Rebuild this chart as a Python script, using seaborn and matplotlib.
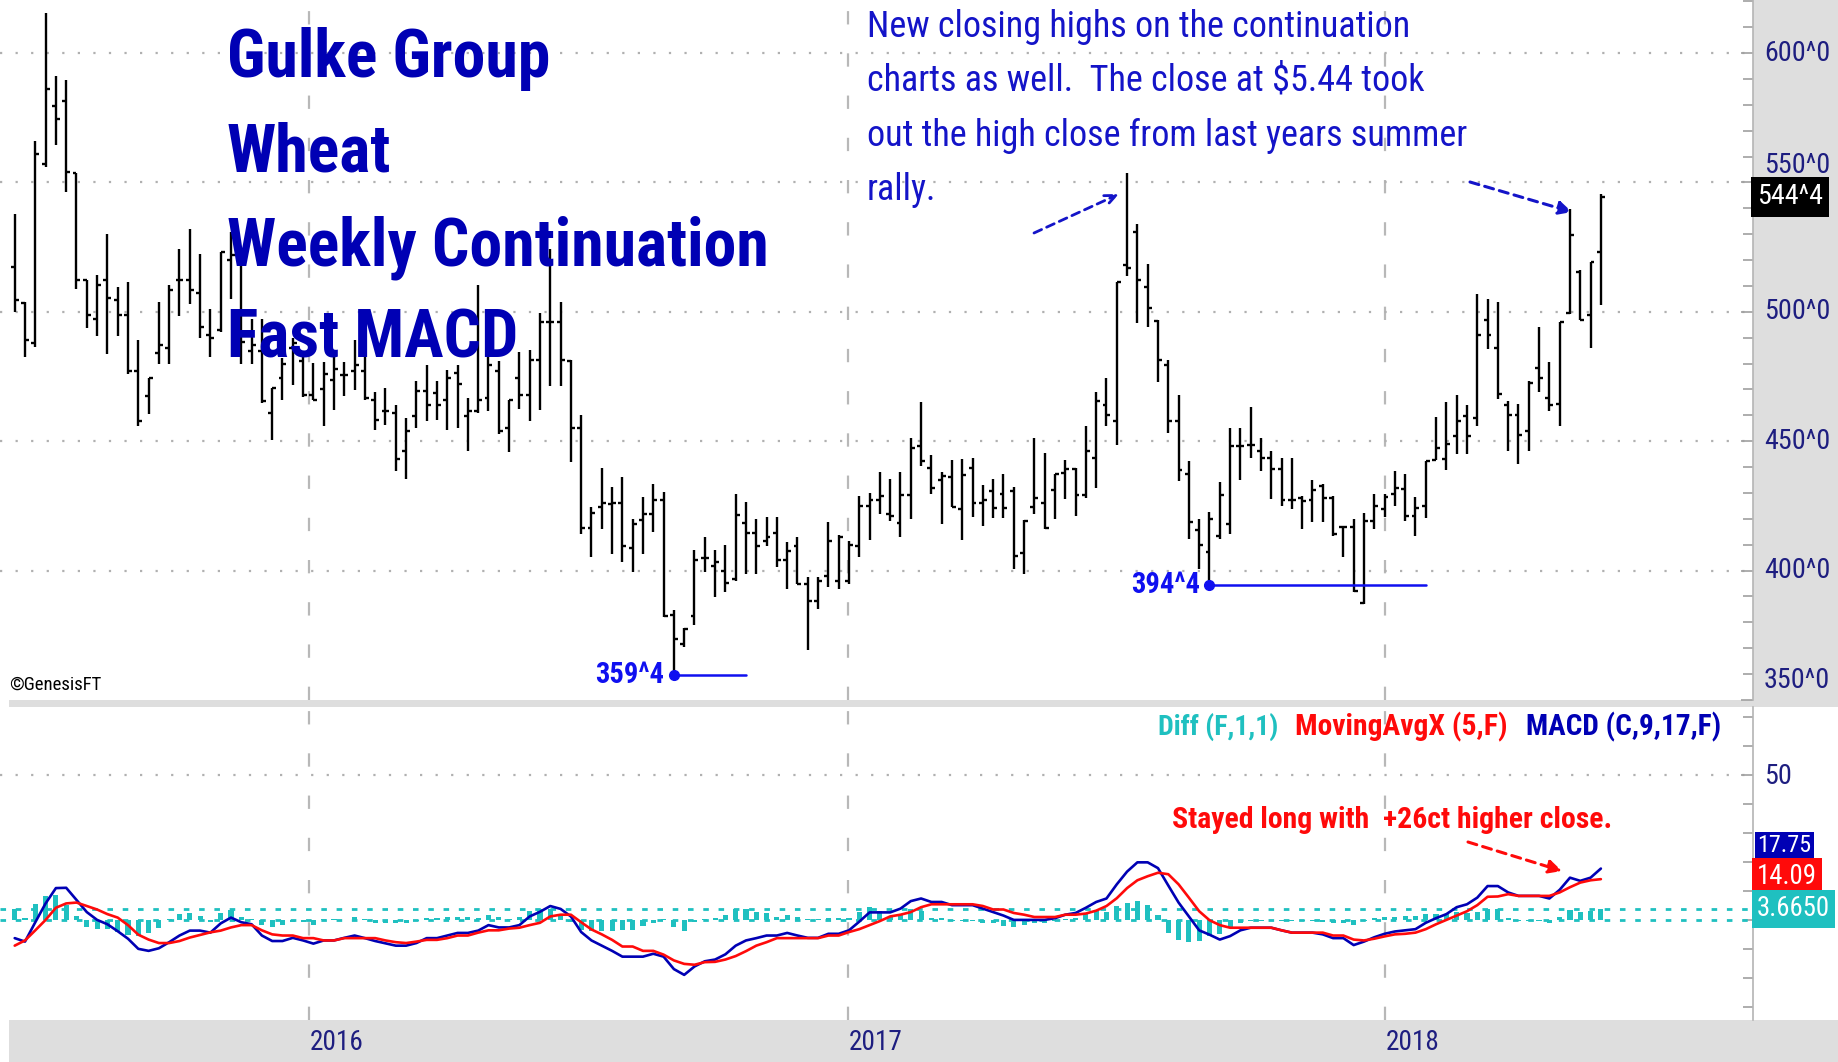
import numpy as np
import pandas as pd
import matplotlib
matplotlib.use("Agg")
import matplotlib.pyplot as plt
import seaborn as sns
from matplotlib import font_manager as fm
from matplotlib.patches import Rectangle

# ---------------- data (weekly wheat continuation, cents/bu) ----------------
opens = [517.3, 503.5, 487.8, 557.0, 579.5, 581.4, 553.6, 512.2, 497.4, 512.2,
         504.5, 498.7, 477.2, 467.6, 484.0, 485.9, 512.2, 512.2, 507.4, 491.0,
         492.9, 519.9, 519.0, 485.0, 485.0, 460.9, 474.4, 485.9, 481.0, 468.0,
         470.0, 473.7, 475.7, 477.0, 477.0, 466.0, 461.5, 460.9, 446.2, 459.6,
         469.5, 468.6, 466.0, 476.3, 459.6, 461.5, 466.7, 477.0, 455.1, 474.4,
         468.0, 481.4, 496.2, 496.0, 481.0, 455.1, 416.4, 424.4, 425.6, 426.3,
         408.7, 419.5, 421.8, 427.2, 383.0, 371.8, 382.3, 404.9, 401.9, 400.0,
         396.8, 418.3, 414.4, 411.5, 414.5, 404.1, 409.6, 394.9, 388.2, 397.8,
         396.0, 396.0, 409.6, 425.0, 427.2, 421.8, 418.3, 429.1, 448.1, 439.5,
         434.9, 436.0, 424.0, 439.5, 426.3, 430.8, 429.7, 430.8, 406.7, 424.4,
         426.3, 431.0, 437.8, 439.1, 429.2, 443.6, 464.1, 457.9, 518.0, 530.7,
         509.6, 496.4, 479.5, 458.0, 437.2, 415.6, 407.0, 413.4, 418.2, 448.1,
         448.7, 446.1, 443.6, 439.3, 427.2, 428.2, 427.2, 432.6, 428.2, 416.7,
         416.7, 387.4, 419.2, 423.7, 429.5, 431.4, 421.1, 425.0, 442.9, 443.3,
         451.9, 459.6, 459.0, 496.8, 486.1, 464.1, 460.2, 453.8, 478.2, 466.6,
         464.3, 499.7, 515.4, 498.7, 523.0]
highs = [537.8, 503.8, 566.0, 615.6, 591.3, 589.4, 553.6, 512.2, 514.4, 530.0,
         509.6, 511.5, 489.0, 474.6, 503.8, 510.5, 524.4, 532.0, 522.2, 501.0,
         523.0, 530.8, 522.0, 497.4, 497.4, 470.5, 482.0, 489.7, 485.0, 480.1,
         480.8, 482.7, 480.8, 489.1, 482.7, 469.2, 470.5, 464.1, 459.0, 473.1,
         479.5, 473.1, 477.6, 479.5, 466.7, 510.5, 483.3, 481.0, 466.0, 484.6,
         485.3, 499.4, 524.4, 503.9, 481.4, 460.0, 424.4, 439.7, 432.3, 436.1,
         419.9, 428.5, 433.3, 430.4, 384.6, 377.9, 408.0, 412.8, 408.0, 410.0,
         429.5, 426.5, 419.9, 420.8, 420.8, 410.9, 412.8, 397.7, 397.4, 418.6,
         413.8, 411.5, 428.8, 430.1, 438.1, 435.3, 438.1, 451.3, 465.1, 444.5,
         438.1, 442.6, 443.0, 443.6, 433.0, 435.3, 437.2, 432.3, 419.5, 451.3,
         445.5, 437.2, 442.6, 439.5, 456.0, 469.0, 474.6, 511.5, 553.6, 534.0,
         518.6, 496.8, 481.4, 467.9, 442.5, 419.9, 422.7, 434.2, 455.1, 455.1,
         463.1, 451.3, 446.4, 443.6, 443.6, 428.8, 435.2, 433.3, 428.8, 417.3,
         419.9, 422.4, 429.5, 429.5, 438.4, 437.2, 428.4, 442.5, 459.2, 465.1,
         468.0, 464.1, 507.0, 504.9, 503.8, 465.6, 464.3, 473.1, 494.2, 480.7,
         496.1, 539.7, 516.0, 519.2, 545.5]
lows = [500.0, 482.7, 486.5, 555.8, 564.5, 546.2, 509.0, 493.6, 490.6, 483.8,
        490.6, 475.9, 455.8, 460.5, 480.0, 480.0, 498.5, 503.2, 489.7, 482.7,
        492.3, 505.1, 480.0, 480.0, 464.7, 450.6, 466.0, 471.8, 467.0, 466.0,
        455.8, 462.2, 467.3, 469.9, 466.0, 454.5, 456.4, 438.5, 435.3, 455.1,
        457.7, 458.3, 454.5, 455.1, 446.2, 460.9, 461.5, 452.8, 445.9, 462.6,
        458.0, 462.2, 471.2, 471.2, 442.0, 414.1, 405.4, 416.0, 406.4, 403.5,
        399.6, 406.4, 415.0, 382.0, 359.5, 370.5, 379.1, 399.3, 389.7, 391.7,
        395.9, 398.7, 398.7, 409.6, 401.5, 393.0, 394.9, 369.5, 385.0, 393.6,
        393.0, 394.9, 405.1, 411.9, 421.8, 419.0, 413.0, 419.9, 440.4, 429.5,
        418.0, 424.4, 412.0, 420.8, 417.3, 420.3, 420.3, 400.6, 398.7, 422.0,
        416.0, 419.9, 427.8, 421.1, 428.0, 432.0, 455.7, 448.7, 514.0, 495.5,
        494.2, 473.0, 453.2, 434.6, 412.2, 400.6, 394.5, 412.2, 414.1, 435.2,
        443.6, 438.4, 427.5, 425.0, 423.7, 416.0, 418.6, 418.6, 413.5, 405.1,
        391.8, 387.2, 416.0, 420.8, 425.0, 419.2, 413.4, 420.3, 442.9, 438.7,
        445.1, 445.1, 455.7, 485.6, 466.4, 446.1, 441.3, 446.1, 469.2, 461.5,
        455.7, 499.3, 496.8, 485.9, 502.5]
closes = [504.5, 489.0, 560.9, 586.2, 574.7, 554.1, 512.2, 498.6, 510.5, 505.4,
          498.7, 477.2, 458.0, 474.6, 487.2, 508.3, 512.2, 508.3, 494.2, 489.7,
          523.0, 522.0, 488.5, 487.0, 465.4, 470.5, 480.0, 488.0, 468.0, 466.0,
          476.0, 478.0, 475.7, 479.5, 466.7, 458.3, 461.5, 443.0, 453.9, 469.5,
          464.1, 464.1, 474.4, 472.0, 461.5, 466.0, 479.5, 453.9, 466.0, 468.0,
          481.4, 496.2, 496.0, 481.4, 455.1, 416.4, 422.4, 426.3, 426.3, 409.6,
          417.9, 422.0, 427.2, 382.3, 373.7, 377.6, 404.1, 404.9, 403.2, 395.1,
          421.5, 414.4, 409.6, 413.0, 404.1, 407.7, 394.9, 388.2, 396.0, 411.5,
          413.0, 410.0, 425.0, 427.2, 428.9, 421.0, 429.1, 447.2, 442.3, 432.0,
          436.5, 424.4, 437.0, 426.3, 427.2, 424.1, 424.1, 405.8, 419.0, 428.2,
          416.4, 437.2, 439.1, 429.2, 446.4, 465.4, 460.2, 511.5, 517.0, 512.4,
          501.5, 481.4, 458.0, 438.7, 418.6, 409.9, 420.0, 429.1, 448.1, 448.1,
          448.7, 443.6, 439.3, 427.2, 427.2, 426.9, 431.0, 428.2, 414.1, 416.7,
          392.3, 419.2, 425.0, 428.4, 432.0, 421.1, 424.3, 442.3, 447.4, 449.0,
          457.7, 451.9, 491.0, 491.0, 468.2, 460.2, 452.3, 472.4, 474.3, 464.1,
          495.9, 529.7, 496.8, 519.2, 544.5]

macd_line = [-6.3, -7.5, -0.8, 5.7, 11.0, 11.1, 6.9, 2.7, 0.0, -1.5,
             -3.9, -6.5, -10.0, -10.7, -9.8, -7.7, -5.4, -3.7, -3.7, -4.4,
             -1.2, 0.8, -0.8, -1.5, -5.4, -7.3, -7.3, -6.2, -7.1, -8.2,
             -7.1, -7.1, -6.2, -5.4, -6.3, -7.3, -8.1, -8.9, -8.9, -8.0,
             -6.3, -6.3, -5.4, -4.5, -4.5, -3.7, -1.8, -2.6, -2.6, -1.8,
             1.2, 2.8, 4.8, 3.8, 1.2, -4.2, -7.1, -8.9, -10.7, -12.7,
             -12.7, -12.7, -11.7, -12.7, -17.0, -19.0, -16.1, -14.3, -13.7, -11.9,
             -8.9, -7.1, -6.3, -5.4, -5.4, -4.5, -5.4, -6.2, -6.2, -4.8,
             -4.8, -3.6, -0.6, 2.6, 2.6, 2.6, 3.9, 6.5, 7.4, 6.2,
             6.2, 5.1, 5.1, 5.1, 3.9, 2.7, 1.5, 0.0, 0.0, 0.0,
             0.0, 0.6, 1.8, 2.4, 4.2, 6.2, 7.4, 12.3, 16.7, 19.9,
             19.9, 17.9, 11.9, 6.0, 1.2, -3.6, -5.1, -6.8, -5.6, -3.6,
             -2.7, -2.7, -2.7, -3.6, -4.4, -4.4, -4.4, -5.0, -6.3, -6.3,
             -8.7, -7.5, -6.0, -4.8, -4.0, -3.6, -3.2, -1.0, 0.6, 2.0,
             4.4, 5.4, 7.7, 11.7, 11.7, 9.5, 8.3, 8.3, 8.3, 7.4,
             10.4, 14.6, 13.5, 14.6, 17.75]
ma_line = [-8.9, -7.1, -3.6, 0.0, 4.2, 5.7, 6.0, 4.8, 3.6, 2.0,
           0.8, -1.8, -5.1, -6.8, -8.0, -8.0, -7.3, -6.1, -5.2, -4.3,
           -3.7, -2.6, -1.8, -1.8, -3.6, -5.0, -5.4, -5.4, -6.3, -6.3,
           -7.1, -7.1, -6.3, -6.3, -6.3, -6.3, -7.1, -7.7, -8.0, -7.5,
           -6.9, -6.9, -6.3, -5.4, -5.4, -4.4, -3.6, -3.6, -3.0, -2.7,
           -1.8, -1.0, 1.2, 1.8, 1.8, -0.8, -3.3, -5.0, -6.9, -9.2,
           -9.2, -10.7, -10.7, -12.0, -14.0, -15.2, -15.5, -14.6, -14.5, -13.7,
           -12.5, -10.8, -8.9, -7.7, -6.3, -6.3, -6.3, -6.3, -6.3, -5.4,
           -5.4, -4.2, -3.2, -1.8, -0.4, 1.2, 1.8, 2.7, 4.4, 5.4,
           5.4, 5.4, 5.4, 5.4, 4.8, 3.6, 3.6, 2.4, 1.8, 1.0,
           1.0, 1.0, 1.8, 1.8, 2.2, 3.2, 4.8, 7.5, 11.0, 13.7,
           15.1, 16.3, 15.8, 12.3, 7.7, 3.0, -0.1, -1.8, -2.7, -2.7,
           -2.7, -2.7, -2.7, -3.6, -4.4, -4.4, -4.4, -4.4, -5.4, -5.4,
           -6.8, -7.1, -6.5, -5.7, -5.0, -4.8, -4.4, -3.2, -1.5, 0.0,
           1.5, 3.0, 5.1, 8.0, 8.1, 8.9, 8.3, 8.3, 8.3, 8.3,
           9.5, 11.3, 12.9, 13.7, 14.09]
diff_hist = [3.8, 0.8, 5.5, 8.2, 8.5, 5.0, 1.5, -2.4, -3.2, -3.2,
             -4.2, -5.2, -5.4, -4.6, -2.8, 0.3, 1.9, 2.4, 1.5, -0.6,
             2.5, 3.4, 1.0, 0.3, -1.8, -2.3, -1.9, -0.8, -0.8, -1.9,
             0.3, 0.3, 0.1, 0.9, 0.3, -1.0, -1.0, -1.2, -0.9, -0.5,
             0.6, 0.6, 0.9, 0.9, 0.9, 0.7, 1.8, 1.0, 0.4, 0.9,
             3.0, 3.8, 3.6, 2.0, -0.6, -3.4, -3.8, -3.9, -3.8, -3.5,
             -3.5, -2.0, -1.0, 0.4, -2.4, -3.8, -0.6, 0.3, 0.8, 1.8,
             3.6, 3.7, 2.6, 2.3, 0.9, 1.8, 0.9, 0.3, 0.3, 0.6,
             0.6, 0.6, 2.6, 4.4, 3.0, 1.4, 2.1, 3.8, 3.0, 0.8,
             0.8, -0.3, -0.3, -0.3, -0.9, -0.9, -2.1, -2.4, -1.8, -1.0,
             -1.0, -0.4, 0.3, 0.6, 2.0, 3.0, 2.6, 4.8, 5.9, 6.4,
             5.0, 1.6, -4.5, -7.0, -7.6, -7.4, -5.6, -5.0, -2.9, -0.9,
             -0.4, -0.4, -0.4, -0.4, -0.4, -0.4, -0.4, -0.6, -0.9, -0.9,
             -1.9, -0.4, 0.5, 0.9, 1.0, 1.2, 1.2, 2.2, 2.1, 2.0,
             2.9, 2.4, 2.6, 3.7, 3.6, 0.6, -0.3, -0.3, -0.3, -0.9,
             0.9, 3.3, 2.8, 3.0, 3.665]

first_week = "2015-06-15"
year_labels = ["2016", "2017", "2018"]
price_ticks = [600, 550, 500, 450, 400]
price_tick_labels = ["600^0", "550^0", "500^0", "450^0", "400^0"]
low_labels = {"359^4": (64, 359.5, 71), "394^4": (116, 394.5, 137)}
last_close_label = "544^4"
macd_last, ma_last, diff_last = "17.75", "14.09", "3.6650"

# ---------------- style / fonts ----------------
sns.set_style("white")
entries = fm.fontManager.ttflist
names = {f.name for f in entries}
REG = "Liberation Sans" if "Liberation Sans" in names else "DejaVu Sans"
plt.rcParams["font.family"] = [REG, "DejaVu Sans"]

NARROW_KW = None
for nm in ["Liberation Sans Narrow", "Arial Narrow", "Roboto Condensed", "Open Sans Condensed"]:
    if nm in names:
        NARROW_KW = dict(family=nm)
        break
if NARROW_KW is None:
    for nm in ["Noto Sans", "Open Sans", "DejaVu Sans", "Roboto"]:
        if any(f.name == nm and str(f.stretch) in ("condensed", "semi-condensed", "extra-condensed")
               for f in entries):
            NARROW_KW = dict(family=nm, stretch="condensed")
            break
if NARROW_KW is None:
    NARROW_KW = dict(family=REG)

W, H = 1838, 1062
fig = plt.figure(figsize=(W / 100, H / 100), dpi=100)
fig.patch.set_facecolor("white")

def fxy(x, y):
    return x / W, 1 - y / H

GRAY = "#dedede"
for (x0, y0, w0, h0) in [(1753, 700, W - 1753, 700), (9, 707, W - 9, 7), (9, H, W - 9, 42)]:
    fig.patches.append(Rectangle(fxy(x0, y0), w0 / W, h0 / H, transform=fig.transFigure,
                                 facecolor=GRAY, edgecolor="none", zorder=-5))

ax_p = fig.add_axes([0, 1 - 700 / H, 1753 / W, 700 / H])
ax_m = fig.add_axes([0, 1 - 1020 / H, 1753 / W, (1020 - 707) / H])

n = len(closes)
x = np.arange(n)
dates = pd.date_range(first_week, periods=n, freq="7D")
year_pos = [(pd.Timestamp(f"{y}-01-01") - dates[0]).days / 7 for y in year_labels]
XL = (-1.427, 168.77)

for ax in (ax_p, ax_m):
    ax.set_facecolor("white")
    ax.set_xlim(*XL)
    for s in ("left", "top", "bottom"):
        ax.spines[s].set_visible(False)
    ax.spines["right"].set_color("#b4b4b4")
    ax.spines["right"].set_linewidth(1.2)
    ax.set_xticks([])
    for yp in year_pos:
        ax.axvline(yp, color="#b8b8b8", lw=1.6, ls=(0, (6, 13)), zorder=0)
    ax.tick_params(axis="y", which="both", left=False, right=True, direction="in",
                   labelleft=False, labelright=False, color="#a0a0a0", width=1.2)
    ax.tick_params(axis="y", which="major", length=9)
    ax.tick_params(axis="y", which="minor", length=7)

fits = []  # (list of texts, reference text, target width px)

# ---------------- price panel ----------------
ax_p.set_ylim(351.3, 620.5)
ax_p.set_yticks(price_ticks + [350])
ax_p.set_yticks(np.arange(360, 621, 10), minor=True)
for p in price_ticks:
    ax_p.axhline(p, color="#b0b0b0", lw=1.6, ls=(0, (1, 6)), zorder=0)

o, h, l, c = map(np.asarray, (opens, highs, lows, closes))
ax_p.vlines(x, l, h, color="black", lw=1.7, zorder=3)
ax_p.hlines(o, x - 0.38, x, color="black", lw=1.7, zorder=3)
ax_p.hlines(c, x, x + 0.38, color="black", lw=1.7, zorder=3)

AXIS_NAVY = "#1e1e80"
trans_p = ax_p.get_yaxis_transform()
label_y = {600: 600, 550: 556.5, 500: 500, 450: 450, 400: 400}
axis_texts = []
for p, lab in zip(price_ticks, price_tick_labels):
    axis_texts.append(ax_p.text(1.0 + 11 / 1753, label_y[p], lab, transform=trans_p, ha="left",
                                va="center", fontsize=20, color=AXIS_NAVY, clip_on=False,
                                zorder=10, **NARROW_KW))
axis_texts.append(ax_p.text(1.0 + 11 / 1753, 357.5, "350^0", transform=trans_p, ha="left",
                            va="center", fontsize=20, color=AXIS_NAVY, clip_on=False,
                            zorder=10, **NARROW_KW))

LBL_BLUE = "#1010f0"
low_texts = []
for lab, (i0, val, i1) in low_labels.items():
    ax_p.plot([i0, i1], [val, val], color=LBL_BLUE, lw=1.8, zorder=4)
    ax_p.plot([i0], [val], "o", color=LBL_BLUE, ms=7, zorder=5)
    low_texts.append(ax_p.text(i0 - 0.9, val, lab, ha="right", va="center", fontsize=21,
                               weight="bold", color=LBL_BLUE, zorder=5, **NARROW_KW))
fits.append((low_texts, low_texts[0], 69))

t_last = fig.text(*fxy(1757, 197), last_close_label, ha="left", va="center", fontsize=20,
                  color="white", bbox=dict(boxstyle="square,pad=0.22", fc="black", ec="none"),
                  **NARROW_KW)

t_gen = fig.text(*fxy(9, 690), "\u00a9GenesisFT", ha="left", va="baseline", fontsize=10,
                 color="black", **NARROW_KW)
fits.append(([t_gen], t_gen, 92))

# title block
TITLE_BLUE = "#0000b4"
title_texts = []
for txt, yb in zip(["Gulke Group", "Wheat", "Weekly Continuation", "Fast MACD"],
                   [77, 171, 265, 357]):
    title_texts.append(fig.text(*fxy(227, yb), txt, ha="left", va="baseline", fontsize=49,
                                weight="bold", color=TITLE_BLUE, zorder=6, **NARROW_KW))
fits.append((title_texts, title_texts[2], 541))

NOTE_BLUE = "#1414c8"
note_texts = []
for txt, yb in zip(["New closing highs on the continuation",
                    "charts as well.  The close at $5.44 took",
                    "out the high close from last years summer",
                    "rally."], [37, 91, 146, 200]):
    note_texts.append(fig.text(*fxy(867, yb), txt, ha="left", va="baseline", fontsize=23.3,
                               color=NOTE_BLUE, **NARROW_KW))
fits.append((note_texts, note_texts[2], 601))

ax_p.annotate("", xy=(1119, H - 194), xycoords="figure pixels",
              xytext=(1034, H - 233), textcoords="figure pixels",
              arrowprops=dict(arrowstyle="->,head_length=0.8,head_width=0.35", color=NOTE_BLUE,
                              lw=2.0, linestyle=(0, (3, 2)), shrinkA=0, shrinkB=0))
ax_p.annotate("", xy=(1572, H - 212), xycoords="figure pixels",
              xytext=(1470, H - 182), textcoords="figure pixels",
              arrowprops=dict(arrowstyle="-|>,head_length=0.8,head_width=0.4", color=NOTE_BLUE,
                              lw=2.2, linestyle=(0, (3, 2)), shrinkA=0, shrinkB=0))

# ---------------- MACD panel ----------------
CYAN, NAVY, RED = "#1fc0c0", "#0000b4", "#ff0a0a"
ax_m.set_ylim(-34.6, 73.6)
ax_m.set_yticks([50])
ax_m.set_yticks(np.arange(-30, 71, 10), minor=True)
ax_m.axhline(50, color="#b0b0b0", lw=1.6, ls=(0, (1, 6)), zorder=0)
ax_m.axhline(0, color=CYAN, lw=2.0, ls=(0, (2, 3.5)), zorder=1)
ax_m.axhline(float(diff_last), color=CYAN, lw=2.0, ls=(0, (2, 3.5)), zorder=1)
ax_m.bar(x, diff_hist, width=0.5, color=CYAN, zorder=2, linewidth=0)

df = pd.DataFrame({"x": x, "MACD": macd_line, "MA": ma_line})
sns.lineplot(data=df, x="x", y="MACD", ax=ax_m, color=NAVY, lw=1.9, zorder=3)
sns.lineplot(data=df, x="x", y="MA", ax=ax_m, color=RED, lw=1.9, zorder=4)
ax_m.set_xlabel("")
ax_m.set_ylabel("")
ax_m.set_xlim(*XL)

t50 = fig.text(*fxy(1764, 776), "50", ha="left", va="center", fontsize=20,
               color=AXIS_NAVY, **NARROW_KW)
axis_texts.append(t50)
fits.append((axis_texts + [t_last], axis_texts[0], 66))

# legend texts
for txt, xx, col, wt in [("Diff (F,1,1)", 1158, CYAN, 120), ("MovingAvgX (5,F)", 1295, RED, 213),
                         ("MACD (C,9,17,F)", 1526, NAVY, 195)]:
    tl = fig.text(*fxy(xx, 735), txt, ha="left", va="baseline", fontsize=21.5,
                  weight="bold", color=col, **NARROW_KW)
    fits.append(([tl], tl, wt))

t_stay = fig.text(*fxy(1172, 828), "Stayed long with  +26ct higher close.", ha="left",
                  va="baseline", fontsize=24, weight="bold", color=RED, **NARROW_KW)
fits.append(([t_stay], t_stay, 441))
ax_m.annotate("", xy=(1562, H - 871), xycoords="figure pixels",
              xytext=(1468, H - 842), textcoords="figure pixels",
              arrowprops=dict(arrowstyle="-|>,head_length=0.8,head_width=0.4", color=RED,
                              lw=2.2, linestyle=(0, (3, 2)), shrinkA=0, shrinkB=0))

# value boxes on right
t_m = fig.text(*fxy(1757, 846), macd_last, ha="left", va="center", fontsize=18, color="white",
               bbox=dict(boxstyle="square,pad=0.1", fc=NAVY, ec="none"), **NARROW_KW)
t_r = fig.text(*fxy(1757, 877), ma_last, ha="left", va="center", fontsize=22, color="white",
               bbox=dict(boxstyle="square,pad=0.2", fc=RED, ec="none"), **NARROW_KW)
t_c = fig.text(*fxy(1757, 909), diff_last, ha="left", va="center", fontsize=22, color="white",
               bbox=dict(boxstyle="square,pad=0.2", fc=CYAN, ec="none"), **NARROW_KW)
fits.append(([t_m], t_m, 54))
fits.append(([t_r, t_c], t_r, 60))

# year labels
yl = []
for yp, lab in zip(year_pos, year_labels):
    xpix = (yp - XL[0]) / (XL[1] - XL[0]) * 1753
    yl.append(fig.text(*fxy(xpix + 1, 1043), lab, ha="left", va="center", fontsize=22,
                       color=AXIS_NAVY, **NARROW_KW))
fits.append((yl, yl[0], 54))

# fit text widths to the reference measurements
renderer = fig.canvas.get_renderer()
for group, ref, target in fits:
    wpx = ref.get_window_extent(renderer=renderer).width
    if wpx > 0:
        s = target / wpx
        for t in group:
            t.set_fontsize(t.get_fontsize() * s)

fig.savefig("out.png", dpi=100, facecolor=fig.get_facecolor())
